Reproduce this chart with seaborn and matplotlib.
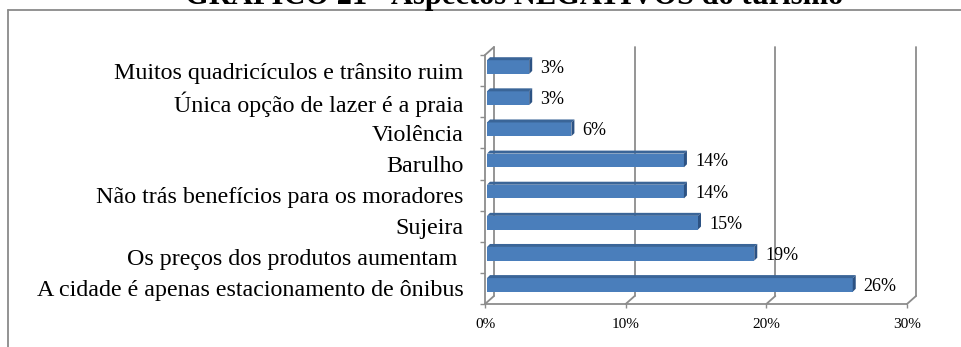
import matplotlib
matplotlib.use("Agg")
import matplotlib.pyplot as plt
import matplotlib.transforms as mtransforms
from matplotlib.lines import Line2D
from matplotlib.patches import Polygon
import pandas as pd
import seaborn as sns

# --- data -------------------------------------------------------------
categories = [
    "Muitos quadricículos e trânsito ruim",
    "Única opção de lazer é a praia",
    "Violência",
    "Barulho",
    "Não trás benefícios para os moradores",
    "Sujeira",
    "Os preços dos produtos aumentam ",
    "A cidade é apenas estacionamento de ônibus",
]
values = [3, 3, 6, 14, 14, 15, 19, 26]
value_labels = ["3%", "3%", "6%", "14%", "14%", "15%", "19%", "26%"]
x_ticks = [0, 10, 20, 30]
x_tick_labels = ["0%", "10%", "20%", "30%"]
title = "GRÁFICO 21 - Aspectos NEGATIVOS do turismo"

# --- style ------------------------------------------------------------
sns.set_theme(style="white")
plt.rcParams["font.family"] = ["Liberation Serif", "DejaVu Serif"]

GRID = "#8c8c8c"
FRONT = "#4a7ebb"
TOP = "#3a6598"
SIDE = "#2c5283"
DEPTH_X, DEPTH_Y = 9, 8      # wall depth in pixels
BAR_DX, BAR_DY = 3, 3        # bar depth in pixels

W, H = 961, 347
fig = plt.figure(figsize=(W / 100, H / 100), dpi=100)
ax = fig.add_axes([485 / W, 1 - 304 / H, 422 / W, 249 / H])

df = pd.DataFrame({"categoria": categories, "valor": values})
sns.barplot(data=df, x="valor", y="categoria", order=categories,
            color=FRONT, saturation=1, width=0.44, edgecolor="none",
            ax=ax, zorder=3)

ax.set_xlim(0, 30)
ax.set_ylim(len(categories) - 0.5, -0.5)
for s in ax.spines.values():
    s.set_visible(False)
ax.set_xlabel("")
ax.set_ylabel("")
ax.patch.set_alpha(0)

back = mtransforms.offset_copy(ax.transData, fig=fig, x=DEPTH_X, y=DEPTH_Y, units="dots")
y_lo, y_hi = ax.get_ylim()

# back wall: gridlines and left wall edge
for xv in x_ticks:
    ax.plot([xv, xv], [y_lo, y_hi], color=GRID, lw=1.3, transform=back,
            clip_on=False, zorder=1)

# floor: front edge and diagonals
ax.plot([x_ticks[0], x_ticks[-1]], [y_lo, y_lo], color=GRID, lw=1.3,
        clip_on=False, zorder=4)
to_disp = ax.transData
inv = ax.transData.inverted()
for xv in x_ticks:
    p_front = to_disp.transform((xv, y_lo))
    p_back = back.transform((xv, y_lo))
    q = inv.transform([p_front, p_back])
    ax.plot(q[:, 0], q[:, 1], color=GRID, lw=1.3, clip_on=False, zorder=4)

# left wall front edge and top diagonal
ax.plot([0, 0], [y_lo, y_hi], color=GRID, lw=1.3, clip_on=False, zorder=4)
q = inv.transform([to_disp.transform((0, y_hi)), back.transform((0, y_hi))])
ax.plot(q[:, 0], q[:, 1], color=GRID, lw=1.3, clip_on=False, zorder=4)

# shift bars toward the middle of the depth and add top / side faces
shift = mtransforms.offset_copy(ax.transData, fig=fig, x=2, y=3.5, units="dots")
for bar in ax.patches:
    bar.set_transform(shift)
    x0, y0 = bar.get_x(), bar.get_y()
    w, h = bar.get_width(), bar.get_height()
    (dx0, dyb), (dx1, dyt) = shift.transform([(x0, y0 + h), (x0 + w, y0)])
    top_face = [(dx0, dyt), (dx1, dyt), (dx1 + BAR_DX, dyt + BAR_DY), (dx0 + BAR_DX, dyt + BAR_DY)]
    side_face = [(dx1, dyb), (dx1, dyt), (dx1 + BAR_DX, dyt + BAR_DY), (dx1 + BAR_DX, dyb + BAR_DY)]
    ax.add_patch(Polygon(inv.transform(top_face), closed=True, fc=TOP, ec="none",
                         zorder=3, clip_on=False))
    ax.add_patch(Polygon(inv.transform(side_face), closed=True, fc=SIDE, ec="none",
                         zorder=3, clip_on=False))

# value labels
lab_tr = mtransforms.offset_copy(ax.transData, fig=fig, x=13, y=2, units="dots")
for i, (v, lab) in enumerate(zip(values, value_labels)):
    ax.text(v, i, lab, transform=lab_tr, ha="left", va="center",
            fontsize=13, color="black", zorder=5)

# ticks
ax.set_xticks(x_ticks)
ax.set_xticklabels(x_tick_labels)
ax.tick_params(axis="x", bottom=True, direction="out", length=3, width=1,
               color=GRID, pad=7, labelsize=11, labelcolor="black")
ax.set_yticks(range(len(categories)))
ax.set_yticklabels(categories)
ax.set_yticks([k - 0.5 for k in range(len(categories) + 1)], minor=True)
ax.tick_params(axis="y", which="major", left=True, length=0, pad=15.5,
               labelsize=17.3, labelcolor="black")
ax.tick_params(axis="y", which="minor", left=True, direction="out", length=3.5,
               width=1, color=GRID)

# outer frame of the chart area
fig.add_artist(Line2D([8 / W, 1], [1 - 10 / H, 1 - 10 / H], color="#8a8a8a",
                      lw=1.3, transform=fig.transFigure))
fig.add_artist(Line2D([8 / W, 8 / W], [0, 1 - 10 / H], color="#8a8a8a",
                      lw=1.3, transform=fig.transFigure))

fig.text(514 / W, 1 - 4 / H, title, ha="center", va="baseline",
         fontsize=22, fontweight="bold", color="black")

fig.savefig("out.png", dpi=100)
